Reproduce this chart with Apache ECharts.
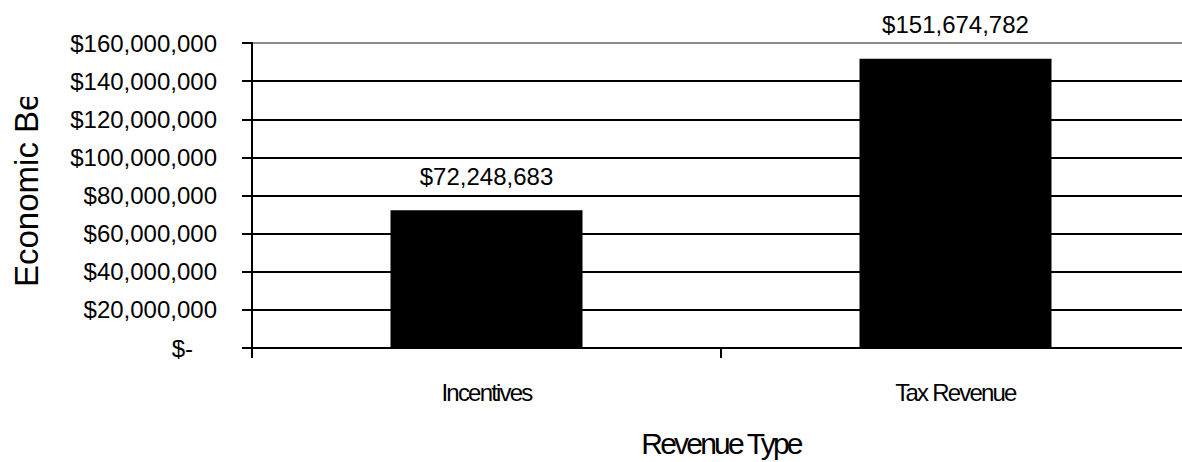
<!DOCTYPE html>
<html>
<head>
<meta charset="utf-8">
<script src="https://cdn.jsdelivr.net/npm/echarts@6/dist/echarts.min.js"></script>
<style>
  html, body { margin: 0; padding: 0; background: #fff; }
  #chart { width: 1182px; height: 462px; overflow: hidden; }
  /* tightly set type for the category axis labels and its title */
  #chart text[style*="tightcat"] { letter-spacing: -1.8px; }
  #chart text[style*="tighttitle"] { letter-spacing: -2.8px; }
</style>
</head>
<body>
<div id="chart"></div>
<script>
// Revenue comparison: incentives granted vs. tax revenue generated
const categories = ['Incentives', 'Tax Revenue'];
const amounts = [72248683, 151674782];
const yMin = 0;
const yMax = 160000000;
const yStep = 20000000;

const FONT = "'Liberation Sans', Arial, sans-serif";
const CAT_FONT = "'Liberation Sans', tightcat";
const TITLE_FONT = "'Liberation Sans', tighttitle";

function money(v) {
  return '$' + Math.round(v).toLocaleString('en-US');
}

// gridline colours: all black except the top boundary line, which is grey
const gridColors = [];
for (let v = yMin; v <= yMax; v += yStep) gridColors.push(v === yMax ? '#8c8c8c' : '#000');

const chart = echarts.init(document.getElementById('chart'), null, { renderer: 'svg' });
chart.setOption({
  animation: false,
  backgroundColor: '#fff',
  // the plot runs slightly past the right edge of the page
  grid: {
    left: 252, top: 43, width: 938, height: 305,
    containLabel: false,
    outerBoundsMode: 'none'
  },
  xAxis: {
    type: 'category',
    data: categories,
    name: 'Revenue Type',
    nameLocation: 'middle',
    nameGap: 80,
    nameTextStyle: { fontFamily: TITLE_FONT, fontSize: 30, color: '#000' },
    axisLine: { lineStyle: { color: '#000', width: 2 } },
    axisTick: { show: true, length: 10, lineStyle: { color: '#000', width: 2 } },
    axisLabel: { margin: 32, fontFamily: CAT_FONT, fontSize: 24, color: '#000' },
    splitLine: { show: false }
  },
  yAxis: {
    type: 'value',
    min: yMin,
    max: yMax,
    interval: yStep,
    axisLine: { show: true, lineStyle: { color: '#000', width: 2 } },
    axisTick: { show: true, length: 10, lineStyle: { color: '#000', width: 2 } },
    axisLabel: {
      margin: 35,
      fontFamily: FONT,
      fontSize: 24,
      color: '#000',
      formatter: v => (v === 0 ? '{z|$-}' : money(v)),
      rich: { z: { fontFamily: FONT, fontSize: 24, color: '#000', padding: [0, 24, 0, 0] } }
    },
    splitLine: { show: true, lineStyle: { color: gridColors, width: 2 } }
  },
  series: [{
    type: 'bar',
    data: amounts,
    barWidth: 192,
    itemStyle: { color: '#000' },
    label: {
      show: true,
      position: 'top',
      distance: 22,
      fontFamily: FONT,
      fontSize: 24,
      color: '#000',
      formatter: p => money(p.value)
    }
  }],
  graphic: [
    {
      type: 'text',
      x: 26,
      y: 287,
      rotation: Math.PI / 2,
      style: {
        text: 'Economic Benefit',
        font: "33px 'Liberation Sans', Arial, sans-serif",
        fill: '#000',
        textAlign: 'left',
        textVerticalAlign: 'middle'
      },
      z: 10
    },
    // the vertical title is cut off by the top of its frame
    { type: 'rect', shape: { x: 0, y: 0, width: 52, height: 97 }, style: { fill: '#fff' }, z: 20 }
  ]
});
</script>
</body>
</html>
